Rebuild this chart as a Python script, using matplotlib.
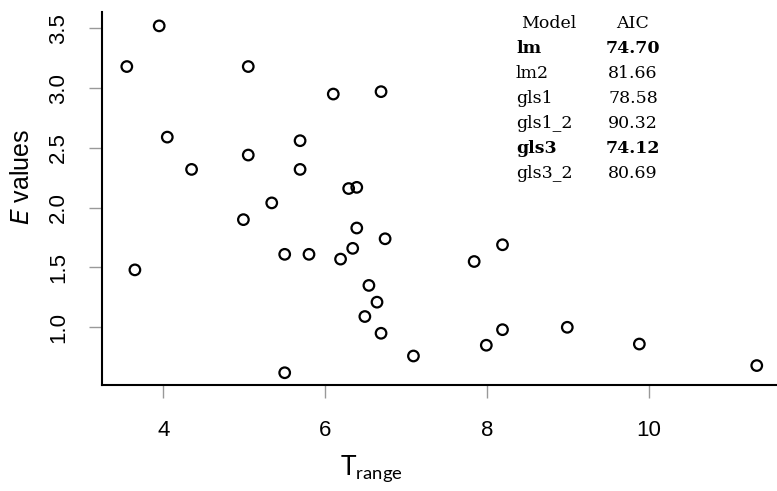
import matplotlib
matplotlib.use("Agg")
import matplotlib.pyplot as plt

# data
t_range = [3.95, 3.55, 5.05, 6.10, 6.69, 4.05, 5.69, 5.05, 4.35, 5.69,
           6.29, 6.39, 5.34, 4.99, 6.39, 6.74, 5.50, 5.80, 6.19, 6.34,
           3.65, 6.54, 6.64, 6.49, 6.69, 7.09, 5.50, 7.84, 8.19, 8.19,
           7.99, 8.99, 9.88, 11.33]
e_values = [3.52, 3.18, 3.18, 2.95, 2.97, 2.59, 2.56, 2.44, 2.32, 2.32,
            2.16, 2.17, 2.04, 1.90, 1.83, 1.74, 1.61, 1.61, 1.57, 1.66,
            1.48, 1.35, 1.21, 1.09, 0.95, 0.76, 0.62, 1.55, 1.69, 0.98,
            0.85, 1.00, 0.86, 0.68]

x_ticks = [4, 6, 8, 10]
y_ticks = [1.0, 1.5, 2.0, 2.5, 3.0, 3.5]
y_tick_labels = ["1.0", "1.5", "2.0", "2.5", "3.0", "3.5"]

models = ["lm", "lm2", "gls1", "gls1_2", "gls3", "gls3_2"]
aic = ["74.70", "81.66", "78.58", "90.32", "74.12", "80.69"]
best = [True, False, False, False, True, False]

W, H = 777, 491
fig = plt.figure(figsize=(W / 100, H / 100), dpi=100)
ax = fig.add_axes([101.7 / W, 1 - 385.3 / H, (W - 101.7) / W, (385.3 - 12) / H])

ax.scatter(t_range, e_values, s=7.6 ** 2, facecolors="none",
           edgecolors="black", linewidths=1.6, zorder=3, clip_on=False)

ax.set_xlim(3.24, 11.58)
ax.set_ylim(0.515, 3.636)

for s in ["top", "right"]:
    ax.spines[s].set_visible(False)
for s in ["left", "bottom"]:
    ax.spines[s].set_linewidth(1.5)
    ax.spines[s].set_color("black")

sans = "Liberation Sans"
ax.set_xticks(x_ticks)
ax.set_xticklabels([str(v) for v in x_ticks], fontfamily=sans, fontsize=16)
ax.set_yticks(y_ticks)
ax.set_yticklabels(y_tick_labels, fontfamily=sans, fontsize=16,
                   rotation=90, va="center")
ax.tick_params(axis="both", direction="out", length=9.5, width=1.0,
               color="#999999")
ax.tick_params(axis="x", pad=15.5)
ax.tick_params(axis="y", pad=14)

ax.set_ylabel(r"$\mathit{E}$ values", fontfamily=sans, fontsize=18)
ax.yaxis.set_label_coords((22.5 - 101.7) / (W - 101.7), (385.3 - 177) / 373.3)
ax.yaxis.label.set_va("center")

ax.set_xlabel(r"T$_{\mathregular{range}}$", fontfamily="Lato", fontsize=19)
ax.xaxis.set_label_coords((371 - 101.7) / (W - 101.7), -(453 - 385.3) / 373.3)

# AIC table
serif = "DejaVu Serif"
fs = 12.5
fig.text(548.7 / W, 1 - 28 / H, "Model", ha="center", va="baseline",
         fontfamily=serif, fontsize=fs)
fig.text(633 / W, 1 - 28 / H, "AIC", ha="center", va="baseline",
         fontfamily=serif, fontsize=fs)
for i, (m, a, b) in enumerate(zip(models, aic, best)):
    yb = 1 - (53 + 25 * i) / H
    wt = "bold" if b else "normal"
    fig.text(516 / W, yb, m, ha="left", va="baseline", fontfamily=serif,
             fontsize=fs, fontweight=wt)
    fig.text(633 / W, yb, a, ha="center", va="baseline", fontfamily=serif,
             fontsize=fs, fontweight=wt)

fig.savefig("out.png", dpi=100)
